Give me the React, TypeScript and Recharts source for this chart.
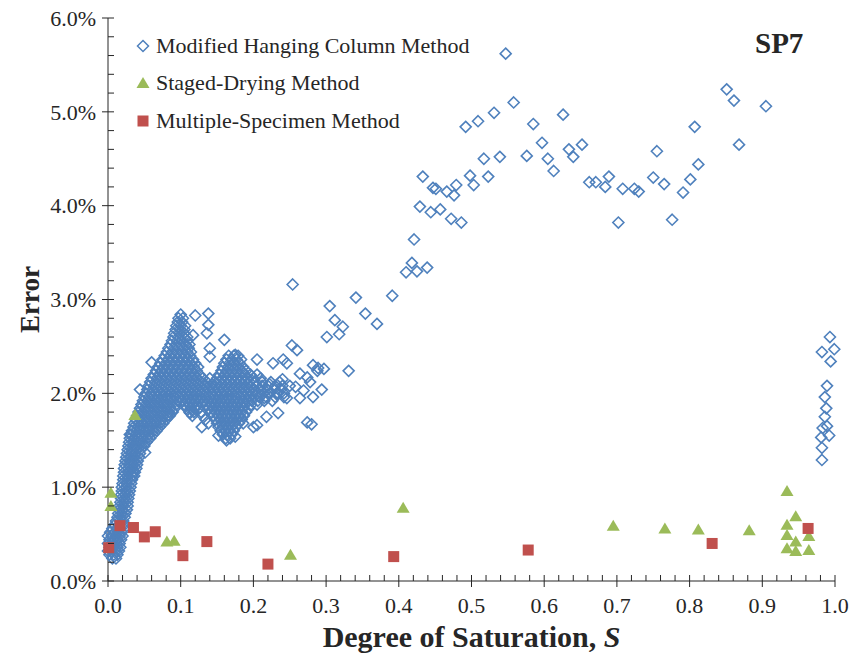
import { Label, Legend, Scatter, ScatterChart, XAxis, YAxis } from "recharts";

const FONT = '"Liberation Serif", "Times New Roman", serif';
const INK = "#262626";
const BLUE = "#4F81BD";
const GREEN = "#9BBB59";
const RED = "#C0504D";

const seriesNames = ["Modified Hanging Column Method", "Staged-Drying Method", "Multiple-Specimen Method"];

// axis ticks
const xMajorTicks = [0, 0.1, 0.2, 0.3, 0.4, 0.5, 0.6, 0.7, 0.8, 0.9, 1];
const xTicks = [
  0, 0.02, 0.04, 0.06, 0.08, 0.1, 0.12, 0.14, 0.16, 0.18, 0.2, 0.22, 0.24, 0.26, 0.28, 0.3, 0.32, 0.34, 0.36, 0.38, 0.4,
  0.42, 0.44, 0.46, 0.48, 0.5, 0.52, 0.54, 0.56, 0.58, 0.6, 0.62, 0.64, 0.66, 0.68, 0.7, 0.72, 0.74, 0.76, 0.78, 0.8,
  0.82, 0.84, 0.86, 0.88, 0.9, 0.92, 0.94, 0.96, 0.98, 1,
];
const yMajorTicks = [0, 1, 2, 3, 4, 5, 6];
const yTicks = [
  0, 0.2, 0.4, 0.6, 0.8, 1, 1.2, 1.4, 1.6, 1.8, 2, 2.2, 2.4, 2.6, 2.8, 3, 3.2, 3.4, 3.6, 3.8, 4, 4.2, 4.4, 4.6, 4.8, 5,
  5.2, 5.4, 5.6, 5.8, 6,
];

// Modified Hanging Column: dense cloud, read row by row -> [error %, saturation values]
const mhcDenseRows: [number, number[]][] = [
  [0.24, [0.006, 0.011]],
  [0.28, [0.002, 0.008, 0.013]],
  [0.32, [0.0, 0.005, 0.011, 0.015]],
  [0.36, [0.002, 0.008, 0.013, 0.017]],
  [0.4, [0.0, 0.005, 0.011, 0.016]],
  [0.44, [0.002, 0.008, 0.013, 0.018]],
  [0.48, [0.0, 0.005, 0.011, 0.016, 0.02]],
  [0.52, [0.003, 0.009, 0.014, 0.019]],
  [0.56, [0.006, 0.012, 0.017, 0.022]],
  [0.6, [0.009, 0.015, 0.02, 0.023]],
  [0.64, [0.011, 0.016, 0.021]],
  [0.68, [0.013, 0.018, 0.023]],
  [0.72, [0.014, 0.019, 0.024]],
  [0.76, [0.015, 0.02, 0.026]],
  [0.8, [0.016, 0.021, 0.027]],
  [0.84, [0.017, 0.022, 0.027]],
  [0.88, [0.018, 0.023, 0.028]],
  [0.92, [0.018, 0.024, 0.029]],
  [0.96, [0.019, 0.025, 0.03]],
  [1.0, [0.019, 0.025, 0.031]],
  [1.04, [0.02, 0.026, 0.032]],
  [1.08, [0.021, 0.027, 0.033]],
  [1.12, [0.021, 0.027, 0.033, 0.036]],
  [1.16, [0.022, 0.028, 0.034, 0.037]],
  [1.2, [0.022, 0.028, 0.034, 0.039]],
  [1.24, [0.023, 0.029, 0.035, 0.04]],
  [1.28, [0.024, 0.03, 0.036, 0.041]],
  [1.32, [0.025, 0.031, 0.037, 0.043]],
  [1.36, [0.026, 0.032, 0.038, 0.044]],
  [1.4, [0.027, 0.033, 0.039, 0.045]],
  [1.44, [0.028, 0.034, 0.04, 0.046, 0.05]],
  [1.48, [0.029, 0.035, 0.041, 0.047, 0.053]],
  [1.52, [0.03, 0.036, 0.042, 0.048, 0.054, 0.058, 0.162, 0.168]],
  [1.56, [0.032, 0.038, 0.044, 0.05, 0.056, 0.062, 0.158, 0.164, 0.17]],
  [1.6, [0.033, 0.039, 0.045, 0.051, 0.057, 0.063, 0.067, 0.155, 0.161, 0.167, 0.173]],
  [1.64, [0.035, 0.041, 0.047, 0.053, 0.059, 0.065, 0.071, 0.152, 0.158, 0.164, 0.17, 0.176]],
  [1.68, [0.036, 0.042, 0.048, 0.054, 0.06, 0.066, 0.072, 0.076, 0.138, 0.15, 0.156, 0.162, 0.168, 0.174, 0.18]],
  [1.72, [0.038, 0.044, 0.05, 0.056, 0.062, 0.068, 0.074, 0.08, 0.134, 0.148, 0.154, 0.16, 0.166, 0.172, 0.178, 0.184]],
  [1.76, [0.04, 0.046, 0.052, 0.058, 0.064, 0.07, 0.076, 0.082, 0.085, 0.116, 0.13, 0.145, 0.151, 0.157, 0.163, 0.169, 0.175, 0.181, 0.187]],
  [1.8, [0.042, 0.048, 0.054, 0.06, 0.066, 0.072, 0.078, 0.084, 0.089, 0.112, 0.118, 0.128, 0.142, 0.148, 0.154, 0.16, 0.166, 0.172, 0.178, 0.184, 0.19]],
  [1.84, [0.044, 0.05, 0.056, 0.062, 0.068, 0.074, 0.08, 0.086, 0.092, 0.108, 0.114, 0.12, 0.125, 0.138, 0.144, 0.15, 0.156, 0.162, 0.168, 0.174, 0.18, 0.186, 0.194]],
  [1.88, [0.046, 0.052, 0.058, 0.064, 0.07, 0.076, 0.082, 0.088, 0.094, 0.105, 0.111, 0.117, 0.123, 0.129, 0.135, 0.141, 0.147, 0.153, 0.159, 0.165, 0.171, 0.177, 0.183, 0.189, 0.197, 0.205]],
  [1.92, [0.048, 0.054, 0.06, 0.066, 0.072, 0.078, 0.084, 0.09, 0.096, 0.102, 0.108, 0.114, 0.12, 0.126, 0.132, 0.138, 0.144, 0.15, 0.156, 0.162, 0.168, 0.174, 0.18, 0.186, 0.192, 0.198, 0.206, 0.215, 0.226]],
  [1.96, [0.05, 0.056, 0.062, 0.068, 0.074, 0.08, 0.086, 0.092, 0.098, 0.104, 0.11, 0.116, 0.122, 0.128, 0.134, 0.14, 0.146, 0.152, 0.158, 0.164, 0.17, 0.176, 0.182, 0.188, 0.194, 0.2, 0.208, 0.218, 0.23, 0.242]],
  [2.0, [0.052, 0.059, 0.066, 0.073, 0.08, 0.087, 0.094, 0.101, 0.108, 0.115, 0.122, 0.129, 0.136, 0.143, 0.15, 0.157, 0.164, 0.171, 0.178, 0.185, 0.192, 0.199, 0.206, 0.214, 0.222, 0.232, 0.242]],
  [2.04, [0.054, 0.061, 0.068, 0.075, 0.082, 0.089, 0.096, 0.103, 0.11, 0.117, 0.124, 0.131, 0.138, 0.145, 0.152, 0.159, 0.166, 0.173, 0.18, 0.187, 0.194, 0.201, 0.21, 0.219, 0.228, 0.238]],
  [2.08, [0.056, 0.063, 0.07, 0.077, 0.084, 0.091, 0.098, 0.105, 0.112, 0.119, 0.126, 0.133, 0.14, 0.147, 0.154, 0.161, 0.168, 0.175, 0.182, 0.189, 0.196, 0.204, 0.212, 0.22, 0.23, 0.24, 0.25]],
  [2.12, [0.058, 0.065, 0.072, 0.079, 0.086, 0.093, 0.1, 0.107, 0.114, 0.121, 0.128, 0.136, 0.146, 0.153, 0.16, 0.167, 0.174, 0.181, 0.188, 0.195, 0.203, 0.212, 0.224, 0.236]],
  [2.16, [0.06, 0.067, 0.074, 0.081, 0.088, 0.095, 0.102, 0.109, 0.116, 0.123, 0.13, 0.14, 0.15, 0.157, 0.164, 0.171, 0.178, 0.185, 0.192, 0.2, 0.21]],
  [2.2, [0.063, 0.07, 0.077, 0.084, 0.091, 0.098, 0.105, 0.112, 0.119, 0.126, 0.153, 0.16, 0.167, 0.174, 0.181, 0.188, 0.196, 0.205]],
  [2.24, [0.066, 0.073, 0.08, 0.087, 0.094, 0.101, 0.108, 0.115, 0.122, 0.156, 0.163, 0.17, 0.177, 0.184, 0.19]],
  [2.28, [0.069, 0.076, 0.083, 0.09, 0.097, 0.104, 0.111, 0.118, 0.124, 0.158, 0.165, 0.172, 0.179, 0.186]],
  [2.32, [0.072, 0.079, 0.086, 0.093, 0.1, 0.107, 0.114, 0.12, 0.16, 0.167, 0.174, 0.181]],
  [2.36, [0.075, 0.082, 0.089, 0.096, 0.103, 0.11, 0.117, 0.163, 0.17, 0.177, 0.183]],
  [2.4, [0.078, 0.085, 0.092, 0.099, 0.106, 0.113, 0.166, 0.173, 0.179]],
  [2.44, [0.081, 0.088, 0.095, 0.102, 0.109, 0.114]],
  [2.48, [0.083, 0.09, 0.097, 0.104, 0.111]],
  [2.52, [0.086, 0.093, 0.1, 0.107, 0.112]],
  [2.56, [0.088, 0.095, 0.102, 0.109]],
  [2.6, [0.09, 0.097, 0.104, 0.109]],
  [2.64, [0.091, 0.098, 0.105]],
  [2.68, [0.093, 0.099, 0.105]],
  [2.72, [0.094, 0.1, 0.106]],
  [2.76, [0.096, 0.102]],
  [2.8, [0.097, 0.103]],
  [2.84, [0.1]],
];

// Modified Hanging Column: scattered points -> [saturation, error %]
const mhcSparse: [number, number][] = [
  [0.044, 2.04], [0.03, 1.56], [0.051, 1.37], [0.06, 2.33], [0.117, 2.62], [0.12, 2.83], [0.138, 2.85], [0.138, 2.73],
  [0.136, 2.64], [0.16, 2.57], [0.14, 2.48], [0.14, 2.39], [0.175, 2.41], [0.113, 1.79], [0.129, 1.64], [0.152, 1.55],
  [0.163, 1.5], [0.175, 1.54], [0.186, 1.68], [0.205, 1.66], [0.218, 1.75], [0.234, 1.79], [0.2, 1.64],
  [0.205, 2.36], [0.227, 2.32], [0.241, 2.36], [0.253, 2.51], [0.26, 2.46], [0.282, 2.3], [0.288, 2.24], [0.274, 2.17],
  [0.264, 2.21], [0.269, 2.03], [0.258, 2.07], [0.294, 2.04], [0.282, 1.96], [0.264, 1.95], [0.246, 1.95], [0.274, 1.69],
  [0.28, 1.67], [0.254, 3.16], [0.305, 2.93], [0.312, 2.78], [0.323, 2.71], [0.318, 2.63], [0.301, 2.6], [0.331, 2.24],
  [0.246, 2.32], [0.289, 2.27], [0.297, 2.26], [0.278, 2.12], [0.234, 2.0], [0.222, 2.1], [0.215, 1.95], [0.24, 2.15],
  [0.341, 3.02], [0.354, 2.85], [0.37, 2.74], [0.391, 3.04], [0.41, 3.29], [0.418, 3.39], [0.425, 3.3], [0.439, 3.34],
  [0.421, 3.64], [0.429, 3.99], [0.444, 3.93], [0.457, 3.96], [0.472, 3.86], [0.486, 3.82], [0.433, 4.31], [0.447, 4.19],
  [0.451, 4.18], [0.466, 4.15], [0.476, 4.11], [0.479, 4.22], [0.498, 4.32], [0.503, 4.22], [0.523, 4.31], [0.517, 4.5],
  [0.539, 4.52], [0.576, 4.53], [0.492, 4.84], [0.509, 4.9], [0.531, 4.99], [0.558, 5.1], [0.547, 5.62], [0.585, 4.87],
  [0.597, 4.67], [0.605, 4.5], [0.613, 4.37], [0.626, 4.97], [0.634, 4.6], [0.64, 4.52], [0.652, 4.65], [0.662, 4.25],
  [0.671, 4.25], [0.684, 4.2], [0.689, 4.31], [0.702, 3.82], [0.708, 4.18], [0.724, 4.18], [0.73, 4.15], [0.75, 4.3],
  [0.755, 4.58], [0.765, 4.23], [0.776, 3.85], [0.791, 4.14], [0.801, 4.28], [0.807, 4.84], [0.812, 4.44], [0.851, 5.24],
  [0.861, 5.12], [0.868, 4.65], [0.905, 5.06],
  [0.993, 2.6], [0.982, 2.44], [0.999, 2.47], [0.994, 2.34], [0.989, 2.08], [0.986, 1.96], [0.988, 1.84], [0.986, 1.75],
  [0.989, 1.65], [0.983, 1.63], [0.992, 1.55], [0.981, 1.53], [0.982, 1.42], [0.982, 1.29],
];

// Staged-Drying -> [saturation, error %]
const sdPoints: [number, number][] = [
  [0.004, 0.94], [0.004, 0.8], [0.037, 1.77], [0.081, 0.42], [0.091, 0.43], [0.251, 0.28], [0.406, 0.78], [0.695, 0.59],
  [0.766, 0.56], [0.812, 0.55], [0.882, 0.54], [0.934, 0.96], [0.946, 0.69], [0.934, 0.6], [0.934, 0.49], [0.934, 0.35],
  [0.946, 0.42], [0.946, 0.32], [0.964, 0.48], [0.964, 0.33],
];

// Multiple-Specimen -> [saturation, error %]
const msPoints: [number, number][] = [
  [0.001, 0.355], [0.0165, 0.59], [0.035, 0.57], [0.05, 0.47], [0.065, 0.525], [0.103, 0.27], [0.136, 0.42], [0.22, 0.18],
  [0.393, 0.26], [0.578, 0.33], [0.831, 0.4], [0.963, 0.56],
];

const mhcData = [
  ...mhcDenseRows.flatMap(([e, ss]) => ss.map((s) => ({ s, e }))),
  ...mhcSparse.map(([s, e]) => ({ s, e })),
];
const sdData = sdPoints.map(([s, e]) => ({ s, e }));
const msData = msPoints.map(([s, e]) => ({ s, e }));

const Diamond = (p: any) => {
  const { cx, cy } = p;
  const r = 5.5;
  return (
    <polygon
      points={`${cx},${cy - r} ${cx + r},${cy} ${cx},${cy + r} ${cx - r},${cy}`}
      fill="none"
      stroke={BLUE}
      strokeWidth={1.6}
    />
  );
};

const Triangle = (p: any) => {
  const { cx, cy } = p;
  return <polygon points={`${cx},${cy - 6} ${cx + 6.5},${cy + 5} ${cx - 6.5},${cy + 5}`} fill={GREEN} />;
};

const Square = (p: any) => {
  const { cx, cy } = p;
  return <rect x={cx - 5.5} y={cy - 5.5} width={11} height={11} fill={RED} />;
};

const isMajor = (list: number[], v: number) => list.some((m) => Math.abs(m - v) < 1e-9);

// ticks: major ones cross the frame, minor ones point inward
const LeftTick = (p: any) => {
  const { x, y, payload } = p;
  const major = isMajor(yMajorTicks, payload.value);
  return (
    <g>
      <line x1={major ? x - 6 : x} x2={x + 6} y1={y} y2={y} stroke={INK} />
      {major && (
        <text x={x - 12} y={y} dy="0.35em" textAnchor="end" fontFamily={FONT} fontSize={22} fill={INK}>
          {`${payload.value.toFixed(1)}%`}
        </text>
      )}
    </g>
  );
};

const RightTick = (p: any) => {
  const { x, y, payload } = p;
  const major = isMajor(yMajorTicks, payload.value);
  return <line x1={x - 6} x2={major ? x + 6 : x} y1={y} y2={y} stroke={INK} />;
};

const BottomTick = (p: any) => {
  const { x, y, payload } = p;
  const major = isMajor(xMajorTicks, payload.value);
  return (
    <g>
      <line x1={x} x2={x} y1={y - 6} y2={major ? y + 6 : y} stroke={INK} />
      {major && (
        <text x={x} y={y + 32} textAnchor="middle" fontFamily={FONT} fontSize={22} fill={INK}>
          {payload.value.toFixed(1)}
        </text>
      )}
    </g>
  );
};

const TopTick = (p: any) => {
  const { x, y, payload } = p;
  const major = isMajor(xMajorTicks, payload.value);
  return <line x1={x} x2={x} y1={major ? y - 6 : y} y2={y + 6} stroke={INK} />;
};

const markers = [
  <svg width={14} height={14} key="d">
    <polygon points="7,1.5 12.5,7 7,12.5 1.5,7" fill="none" stroke={BLUE} strokeWidth={1.5} />
  </svg>,
  <svg width={14} height={14} key="t">
    <polygon points="7,1 13.5,12 0.5,12" fill={GREEN} />
  </svg>,
  <svg width={14} height={14} key="s">
    <rect x={1.5} y={1.5} width={11} height={11} fill={RED} />
  </svg>,
];

const renderLegend = () => (
  <div style={{ fontFamily: FONT, fontSize: 22, color: INK }}>
    {seriesNames.map((name, i) => (
      <div key={name} style={{ display: "flex", alignItems: "center", height: 37.5 }}>
        {markers[i]}
        <span style={{ marginLeft: 6 }}>{name}</span>
      </div>
    ))}
  </div>
);

export default function App() {
  return (
    <div style={{ position: "absolute", left: 0, top: 0, width: 849, height: 656, background: "#fff" }}>
      <ScatterChart width={849} height={656} margin={{ top: 18, right: 14, bottom: 0, left: 0 }}>
        <XAxis
          dataKey="s"
          type="number"
          domain={[0, 1]}
          ticks={xTicks}
          interval={0}
          height={75}
          tickSize={0}
          tickMargin={0}
          tickLine={false}
          axisLine={{ stroke: INK }}
          tick={<BottomTick />}
        >
          <Label
            content={(props: any) => {
              const vb = props.viewBox;
              return (
                <text
                  x={vb.x + vb.width / 2}
                  y={vb.y + 66}
                  textAnchor="middle"
                  fontFamily={FONT}
                  fontWeight="bold"
                  fontSize={30}
                  fill={INK}
                >
                  Degree of Saturation, <tspan fontStyle="italic">S</tspan>
                </text>
              );
            }}
          />
        </XAxis>
        <XAxis
          xAxisId="top"
          orientation="top"
          type="number"
          domain={[0, 1]}
          ticks={xTicks}
          interval={0}
          height={0}
          tickSize={0}
          tickMargin={0}
          tickLine={false}
          axisLine={{ stroke: INK }}
          tick={<TopTick />}
        />
        <YAxis
          dataKey="e"
          type="number"
          domain={[0, 6]}
          ticks={yTicks}
          interval={0}
          width={108}
          tickSize={0}
          tickMargin={0}
          tickLine={false}
          axisLine={{ stroke: INK }}
          tick={<LeftTick />}
        >
          <Label
            content={(props: any) => {
              const vb = props.viewBox;
              const cx = vb.x + 30;
              const cy = vb.y + vb.height / 2;
              return (
                <text
                  x={cx}
                  y={cy}
                  dy="0.35em"
                  transform={`rotate(-90, ${cx}, ${cy})`}
                  textAnchor="middle"
                  fontFamily={FONT}
                  fontWeight="bold"
                  fontSize={27}
                  fill={INK}
                >
                  Error
                </text>
              );
            }}
          />
        </YAxis>
        <YAxis
          yAxisId="right"
          orientation="right"
          type="number"
          domain={[0, 6]}
          ticks={yTicks}
          interval={0}
          width={0}
          tickSize={0}
          tickMargin={0}
          tickLine={false}
          axisLine={{ stroke: INK }}
          tick={<RightTick />}
        />
        <Legend
          layout="vertical"
          align="center"
          verticalAlign="middle"
          wrapperStyle={{ left: 136, top: 27, width: "auto" }}
          content={renderLegend}
        />
        <Scatter name={seriesNames[0]} data={mhcData} shape={Diamond} isAnimationActive={false} />
        <Scatter name={seriesNames[1]} data={sdData} shape={Triangle} isAnimationActive={false} />
        <Scatter name={seriesNames[2]} data={msData} shape={Square} isAnimationActive={false} />
      </ScatterChart>
      <div
        style={{
          position: "absolute",
          left: 755,
          top: 27,
          fontFamily: FONT,
          fontWeight: "bold",
          fontSize: 29,
          color: INK,
        }}
      >
        SP7
      </div>
    </div>
  );
}
